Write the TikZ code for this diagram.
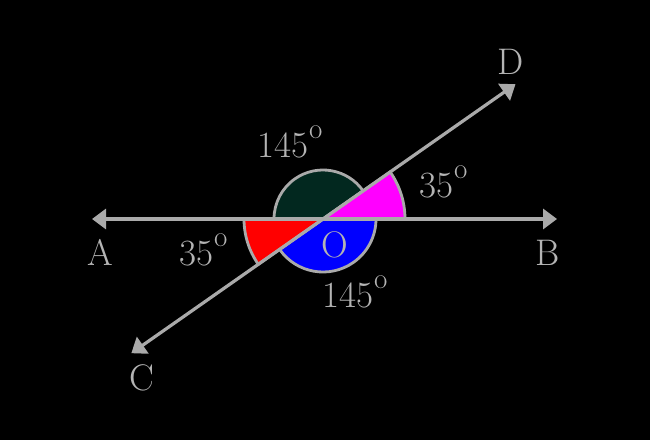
\documentclass[tikz,border=0pt]{standalone}
\usetikzlibrary{arrows.meta,calc}
\definecolor{ln}{HTML}{AAAAAA}
\definecolor{txt}{HTML}{B4B4B4}
\definecolor{dkgreen}{HTML}{02281F}
\definecolor{mag}{HTML}{FF00FF}
\definecolor{rd}{HTML}{FF0000}
\definecolor{bl}{HTML}{0000FF}
\newcommand{\degs}{\hspace{1pt}\raisebox{19pt}{\fontsize{29}{30}\selectfont o}}
\begin{document}
\begin{tikzpicture}[x=1pt,y=1pt,
  ray/.style={draw=ln,line width=3.2pt,-{Triangle[length=14pt,width=20pt]}},
  sect/.style={draw=ln,line width=2.8pt},
  lbl/.style={text=txt,font=\fontsize{37}{40}\selectfont,inner sep=0pt}]
\fill[black] (0,0) rectangle (650,440);
\useasboundingbox (0,0) rectangle (650,440);
\coordinate (O) at (323,221);
\coordinate (A) at (92,221);
\coordinate (B) at (557,221);
\coordinate (D) at ($(O)+(35:235)$);
\coordinate (C) at ($(O)+(215:234)$);
% sectors
\filldraw[sect,fill=dkgreen] (O) -- ++(35:49) arc[start angle=35,end angle=180,radius=49] -- cycle;
\filldraw[sect,fill=bl] (O) -- ++(215:53) arc[start angle=215,end angle=360,radius=53] -- cycle;
\filldraw[sect,fill=mag] (O) -- ++(0:82) arc[start angle=0,end angle=35,radius=82] -- cycle;
\filldraw[sect,fill=rd] (O) -- ++(180:79) arc[start angle=180,end angle=215,radius=79] -- cycle;
% rays
\draw[ray] (O) -- (A);
\draw[ray] (O) -- (B);
\draw[ray] (O) -- (C);
\draw[ray] (O) -- (D);
% labels
\node[lbl,anchor=base] (lA) at (100,175) {A};
\node[lbl,anchor=base] (lB) at (548,175) {B};
\node[lbl,anchor=base] (lC) at (142,50) {C};
\node[lbl,anchor=base] (lD) at (511,365) {D};
\node[lbl,anchor=base] (lO) at (335,183) {O};
\node[lbl,anchor=base west] (g1) at (257,283) {145\degs};
\node[lbl,anchor=base west] (g2) at (322,133) {145\degs};
\node[lbl,anchor=base west] (g3) at (419,243) {35\degs};
\node[lbl,anchor=base west] (g4) at (179,175) {35\degs};
\end{tikzpicture}
\end{document}
